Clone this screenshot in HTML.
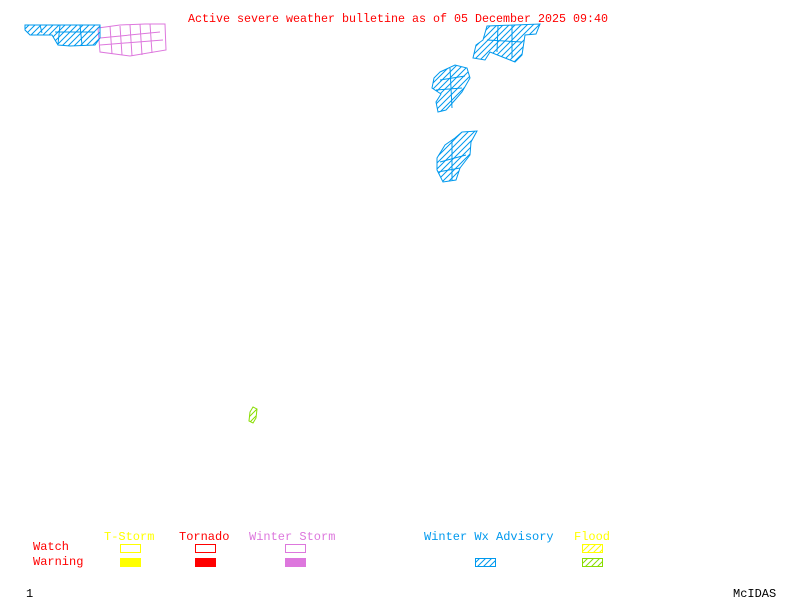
<!DOCTYPE html>
<html><head><meta charset="utf-8"><style>
html,body{margin:0;padding:0;background:#fff;}
svg{display:block;}
text{font-family:"Liberation Mono",monospace;font-size:12px;}
</style></head><body>
<svg width="800" height="600" viewBox="0 0 800 600" xmlns="http://www.w3.org/2000/svg">
<defs>
<pattern id="hb" width="6" height="6" patternUnits="userSpaceOnUse"><path d="M-1,7 L7,-1 M-1,1 L1,-1 M5,7 L7,5" stroke="#0099ee" stroke-width="1"/></pattern>
<pattern id="hg" width="6" height="6" patternUnits="userSpaceOnUse"><path d="M-1,7 L7,-1 M-1,1 L1,-1 M5,7 L7,5" stroke="#88dd00" stroke-width="1"/></pattern>
<pattern id="hy" width="6" height="6" patternUnits="userSpaceOnUse"><path d="M-1,7 L7,-1 M-1,1 L1,-1 M5,7 L7,5" stroke="#ffff00" stroke-width="1"/></pattern>
</defs>
<text x="188" y="22" fill="#ff0000" textLength="420" lengthAdjust="spacingAndGlyphs">Active severe weather bulletine as of 05 December 2025 09:40</text>

<!-- top-left pink -->
<g fill="none" stroke="#dd77dd" stroke-width="1">
<path d="M98,28 L120,25 L145,24 L165,24 L166,50 L130,56 L100,52 Z"/>
<path d="M100,38 L160,32 M100,45 L163,40 M110,26 L112,54 M120,26 L122,55 M130,25 L132,56 M140,24 L142,55 M150,24 L152,53"/>
</g>
<!-- top-left blue -->
<path d="M25,25 L100,25 L100,38 L95,45 L70,46 L58,45 L52,35 L30,35 L25,30 Z" fill="url(#hb)" stroke="#0099ee"/>
<path d="M40,25 L42,33 M60,25 L58,44 M80,25 L82,45 M55,32 L95,32" fill="none" stroke="#0099ee"/>

<!-- top-right cluster -->
<path d="M487,26 L540,24 L536,34 L525,35 L522,55 L515,62 L505,58 L490,52 L485,60 L473,58 L476,45 L483,40 Z" fill="url(#hb)" stroke="#0099ee"/>
<path d="M498,26 L497,52 M512,25 L512,58 M487,40 L522,42" fill="none" stroke="#0099ee"/>
<!-- middle cluster -->
<path d="M440,72 L455,65 L467,68 L470,78 L462,92 L455,100 L446,110 L438,112 L436,102 L441,94 L432,88 L434,78 Z" fill="url(#hb)" stroke="#0099ee"/>
<path d="M440,80 L465,76 M436,90 L462,88 M450,68 L452,108" fill="none" stroke="#0099ee"/>
<!-- lower cluster -->
<path d="M462,132 L477,131 L471,142 L470,155 L460,168 L456,180 L443,182 L437,170 L437,158 L445,145 L455,138 Z" fill="url(#hb)" stroke="#0099ee"/>
<path d="M440,162 L466,155 M438,172 L460,168 M452,140 L452,180" fill="none" stroke="#0099ee"/>

<!-- green -->
<path d="M253,407 L257,409 L256,418 L253,423 L249,421 L250,412 Z" fill="url(#hg)" stroke="#88dd00"/>

<!-- legend -->
<text x="104" y="540" fill="#ffff00">T-Storm</text>
<text x="179" y="540" fill="#ff0000">Tornado</text>
<text x="249" y="540" fill="#dd77dd">Winter Storm</text>
<text x="424" y="540" fill="#0099ee">Winter Wx Advisory</text>
<text x="574" y="540" fill="#ffff00">Flood</text>
<text x="33" y="550" fill="#ff0000">Watch</text>
<text x="33" y="565" fill="#ff0000">Warning</text>

<rect x="120.5" y="544.5" width="20" height="8" fill="none" stroke="#ffff00"/>
<rect x="195.5" y="544.5" width="20" height="8" fill="none" stroke="#ff0000"/>
<rect x="285.5" y="544.5" width="20" height="8" fill="none" stroke="#dd77dd"/>
<rect x="582.5" y="544.5" width="20" height="8" fill="url(#hy)" stroke="#ffff00"/>

<rect x="120" y="558" width="21" height="9" fill="#ffff00"/>
<rect x="195" y="558" width="21" height="9" fill="#ff0000"/>
<rect x="285" y="558" width="21" height="9" fill="#dd77dd"/>
<rect x="475.5" y="558.5" width="20" height="8" fill="url(#hb)" stroke="#0099ee"/>
<rect x="582.5" y="558.5" width="20" height="8" fill="url(#hg)" stroke="#88dd00"/>

<text x="26" y="597" fill="#000">1</text>
<text x="733" y="597" fill="#000">McIDAS</text>
</svg>
</body></html>
